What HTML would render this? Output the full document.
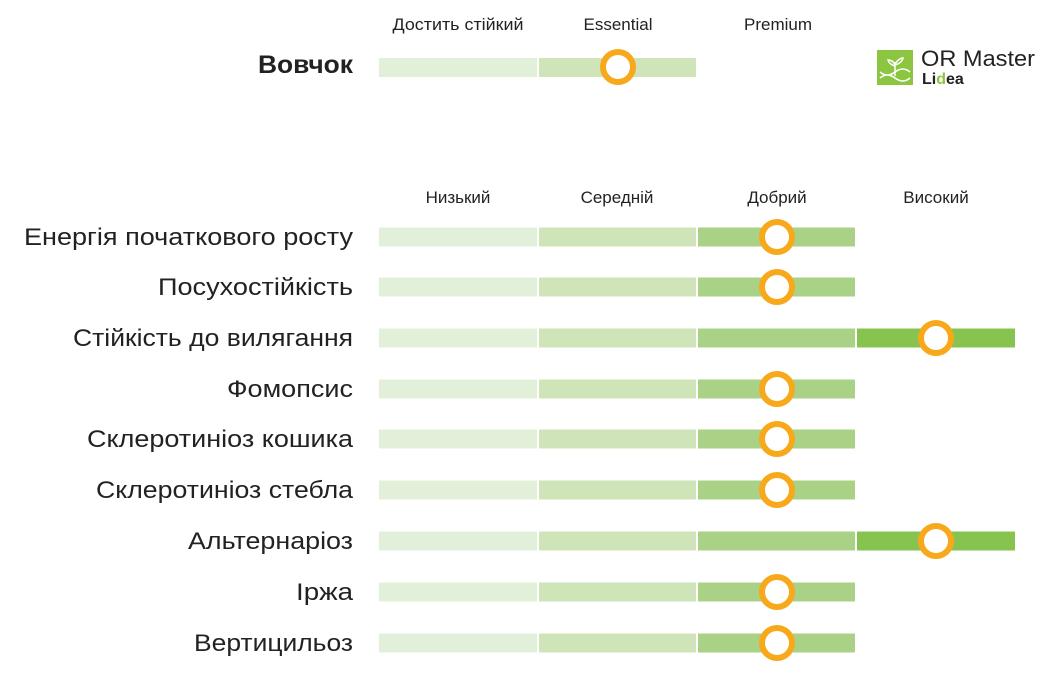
<!DOCTYPE html>
<html><head><meta charset="utf-8"><style>
body{margin:0;background:#fff;width:1042px;height:673px;overflow:hidden;font-family:"Liberation Sans",sans-serif;}
</style></head><body>
<svg width="1042" height="673" xmlns="http://www.w3.org/2000/svg" font-family="Liberation Sans, sans-serif">
<g font-size="17" fill="#222" text-anchor="middle">
<text x="458" y="30" textLength="131" lengthAdjust="spacingAndGlyphs">Достить стійкий</text>
<text x="618" y="30">Essential</text>
<text x="778" y="30">Premium</text>
<text x="458" y="203">Низький</text>
<text x="617" y="203">Середній</text>
<text x="777" y="203">Добрий</text>
<text x="936" y="203">Високий</text>
</g>
<text x="353" y="73" font-size="25" font-weight="bold" fill="#222" text-anchor="end" textLength="95" lengthAdjust="spacingAndGlyphs">Вовчок</text>
<rect x="379" y="58" width="158" height="19" fill="#e3f0d9"/>
<rect x="539" y="58" width="157" height="19" fill="#cfe4b8"/>
<circle cx="618" cy="67" r="15" fill="#fff" stroke="#f7a91b" stroke-width="6"/>
<rect x="877" y="50" width="36" height="35" fill="#8cc540"/>
<g stroke="#fff" stroke-width="1.5" fill="none">
<path d="M895 76 V62 M895 66 q-6 -2 -7 -6 q5 0 7 5 M895 64 q4 -6 8 -6 q-1 5 -8 7"/>
<path d="M880 78 q7 -6 15 0 q8 6 15 0 M880 72 q7 6 15 0 q8 -6 15 0"/>
</g>
<text x="921" y="66" font-size="22" fill="#222" textLength="114" lengthAdjust="spacingAndGlyphs">OR Master</text>
<text x="922" y="84" font-size="16" font-weight="bold" fill="#222">Li<tspan fill="#8cc540">d</tspan>ea</text>
<g font-size="24" fill="#222" text-anchor="end" lengthAdjust="spacingAndGlyphs">
<text x="353" y="245" textLength="329" lengthAdjust="spacingAndGlyphs">Енергія початкового росту</text>
<text x="353" y="295" textLength="195" lengthAdjust="spacingAndGlyphs">Посухостійкість</text>
<text x="353" y="346" textLength="280" lengthAdjust="spacingAndGlyphs">Стійкість до вилягання</text>
<text x="353" y="397" textLength="126" lengthAdjust="spacingAndGlyphs">Фомопсис</text>
<text x="353" y="447" textLength="266" lengthAdjust="spacingAndGlyphs">Склеротиніоз кошика</text>
<text x="353" y="498" textLength="257" lengthAdjust="spacingAndGlyphs">Склеротиніоз стебла</text>
<text x="353" y="549" textLength="165" lengthAdjust="spacingAndGlyphs">Альтернаріоз</text>
<text x="353" y="600" textLength="57" lengthAdjust="spacingAndGlyphs">Іржа</text>
<text x="353" y="651" textLength="159" lengthAdjust="spacingAndGlyphs">Вертицильоз</text>
</g>
<g>
<rect x="379" y="227.5" width="158" height="19" fill="#e3f0d9"/><rect x="539" y="227.5" width="157" height="19" fill="#cfe4b8"/><rect x="698" y="227.5" width="157" height="19" fill="#a9d286"/>
<circle cx="777" cy="237" r="15" fill="#fff" stroke="#f7a91b" stroke-width="6"/>
<rect x="379" y="277.5" width="158" height="19" fill="#e3f0d9"/><rect x="539" y="277.5" width="157" height="19" fill="#cfe4b8"/><rect x="698" y="277.5" width="157" height="19" fill="#a9d286"/>
<circle cx="777" cy="287" r="15" fill="#fff" stroke="#f7a91b" stroke-width="6"/>
<rect x="379" y="328.5" width="158" height="19" fill="#e3f0d9"/><rect x="539" y="328.5" width="157" height="19" fill="#cfe4b8"/><rect x="698" y="328.5" width="157" height="19" fill="#a9d286"/><rect x="857" y="328.5" width="158" height="19" fill="#86c44f"/>
<circle cx="936" cy="338" r="15" fill="#fff" stroke="#f7a91b" stroke-width="6"/>
<rect x="379" y="379.5" width="158" height="19" fill="#e3f0d9"/><rect x="539" y="379.5" width="157" height="19" fill="#cfe4b8"/><rect x="698" y="379.5" width="157" height="19" fill="#a9d286"/>
<circle cx="777" cy="389" r="15" fill="#fff" stroke="#f7a91b" stroke-width="6"/>
<rect x="379" y="429.5" width="158" height="19" fill="#e3f0d9"/><rect x="539" y="429.5" width="157" height="19" fill="#cfe4b8"/><rect x="698" y="429.5" width="157" height="19" fill="#a9d286"/>
<circle cx="777" cy="439" r="15" fill="#fff" stroke="#f7a91b" stroke-width="6"/>
<rect x="379" y="480.5" width="158" height="19" fill="#e3f0d9"/><rect x="539" y="480.5" width="157" height="19" fill="#cfe4b8"/><rect x="698" y="480.5" width="157" height="19" fill="#a9d286"/>
<circle cx="777" cy="490" r="15" fill="#fff" stroke="#f7a91b" stroke-width="6"/>
<rect x="379" y="531.5" width="158" height="19" fill="#e3f0d9"/><rect x="539" y="531.5" width="157" height="19" fill="#cfe4b8"/><rect x="698" y="531.5" width="157" height="19" fill="#a9d286"/><rect x="857" y="531.5" width="158" height="19" fill="#86c44f"/>
<circle cx="936" cy="541" r="15" fill="#fff" stroke="#f7a91b" stroke-width="6"/>
<rect x="379" y="582.5" width="158" height="19" fill="#e3f0d9"/><rect x="539" y="582.5" width="157" height="19" fill="#cfe4b8"/><rect x="698" y="582.5" width="157" height="19" fill="#a9d286"/>
<circle cx="777" cy="592" r="15" fill="#fff" stroke="#f7a91b" stroke-width="6"/>
<rect x="379" y="633.5" width="158" height="19" fill="#e3f0d9"/><rect x="539" y="633.5" width="157" height="19" fill="#cfe4b8"/><rect x="698" y="633.5" width="157" height="19" fill="#a9d286"/>
<circle cx="777" cy="643" r="15" fill="#fff" stroke="#f7a91b" stroke-width="6"/>
</g>
</svg>
</body></html>
